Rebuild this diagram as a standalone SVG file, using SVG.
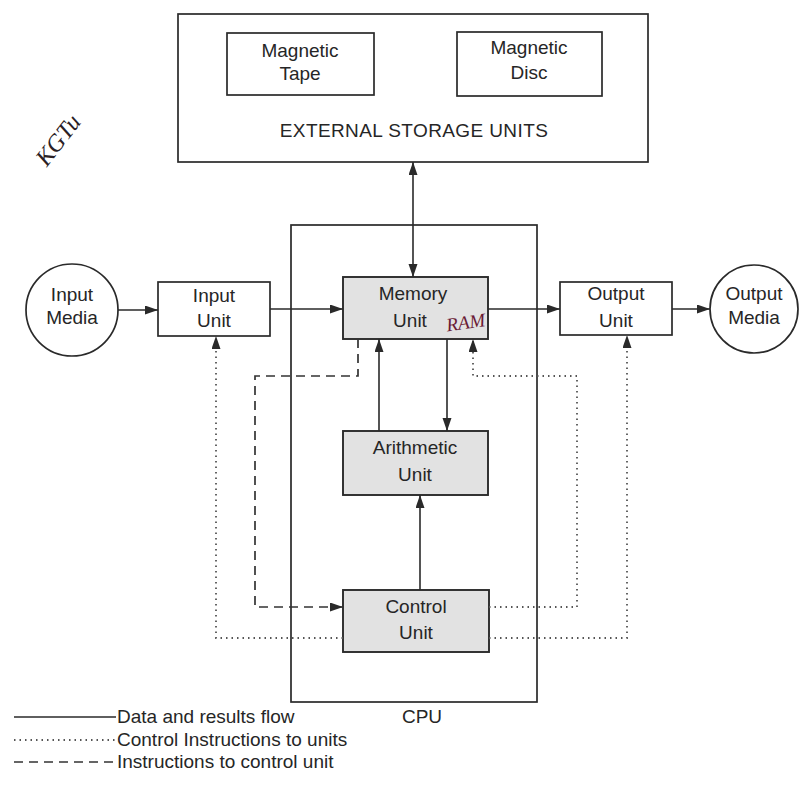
<svg xmlns="http://www.w3.org/2000/svg" width="800" height="788" viewBox="0 0 800 788">
<style>
  .box { fill: #ffffff; stroke: #2a2a2a; stroke-width: 1.7; }
  .shade { fill: #e2e2e2; stroke: #2a2a2a; stroke-width: 1.9; }
  .lbl { font-family: "Liberation Sans", Arial, sans-serif; font-size: 19px; fill: #262626; text-anchor: middle; }
  .leg { font-family: "Liberation Sans", Arial, sans-serif; font-size: 19px; fill: #262626; }
  .solid { fill: none; stroke: #2a2a2a; stroke-width: 1.6; }
  .dotted { fill: none; stroke: #555555; stroke-width: 1.8; stroke-dasharray: 1.5 4; }
  .dashed { fill: none; stroke: #333333; stroke-width: 1.7; stroke-dasharray: 9 6; }
  .hand { font-family: "Liberation Serif", serif; font-style: italic; }
</style>
<defs>
  <marker id="arr" markerUnits="userSpaceOnUse" markerWidth="14" markerHeight="10" refX="13" refY="4.5" orient="auto-start-reverse">
    <path d="M0,0 L13,4.5 L0,9 z" fill="#2a2a2a"/>
  </marker>
</defs>
<rect width="800" height="788" fill="#ffffff"/>

<g id="external-storage">
  <rect class="box" x="178" y="14" width="470" height="148"/>
  <text class="lbl" x="414" y="137" letter-spacing="0.4">EXTERNAL STORAGE UNITS</text>
</g>
<g id="magnetic-tape">
  <rect class="box" x="227" y="33" width="147" height="62"/>
  <text class="lbl" x="300" y="57">Magnetic</text>
  <text class="lbl" x="300" y="80">Tape</text>
</g>
<g id="magnetic-disc">
  <rect class="box" x="457" y="32" width="145" height="64"/>
  <text class="lbl" x="529" y="54">Magnetic</text>
  <text class="lbl" x="529" y="79">Disc</text>
</g>
<g id="cpu">
  <rect class="box" x="291" y="225" width="246" height="477" fill="none"/>
  <text class="lbl" x="422" y="723">CPU</text>
</g>
<g id="input-media">
  <circle class="box" cx="72" cy="310" r="46"/>
  <text class="lbl" x="72" y="301">Input</text>
  <text class="lbl" x="72" y="324">Media</text>
</g>
<g id="input-unit">
  <rect class="box" x="158" y="282" width="112" height="54"/>
  <text class="lbl" x="214" y="302">Input</text>
  <text class="lbl" x="214" y="327">Unit</text>
</g>
<g id="memory-unit">
  <rect class="shade" x="343" y="277" width="145" height="62"/>
  <text class="lbl" x="413" y="300">Memory</text>
  <text class="lbl" x="410" y="327">Unit</text>
  <text class="hand" x="446" y="329" font-size="19" fill="#6a1a35" transform="rotate(-8 464 322)">RAM</text>
</g>
<g id="output-unit">
  <rect class="box" x="560" y="282" width="112" height="53"/>
  <text class="lbl" x="616" y="300">Output</text>
  <text class="lbl" x="616" y="327">Unit</text>
</g>
<g id="output-media">
  <circle class="box" cx="754" cy="309" r="44"/>
  <text class="lbl" x="754" y="300">Output</text>
  <text class="lbl" x="754" y="324">Media</text>
</g>
<g id="arithmetic-unit">
  <rect class="shade" x="343" y="431" width="145" height="64"/>
  <text class="lbl" x="415" y="454">Arithmetic</text>
  <text class="lbl" x="415" y="481">Unit</text>
</g>
<g id="control-unit">
  <rect class="shade" x="343" y="590" width="146" height="62"/>
  <text class="lbl" x="416" y="613">Control</text>
  <text class="lbl" x="416" y="639">Unit</text>
</g>

<g id="connectors">
  <line class="solid" x1="413" y1="162" x2="413" y2="277" marker-start="url(#arr)" marker-end="url(#arr)"/>
  <line class="solid" x1="118" y1="310" x2="158" y2="310" marker-end="url(#arr)"/>
  <line class="solid" x1="270" y1="309" x2="343" y2="309" marker-end="url(#arr)"/>
  <line class="solid" x1="488" y1="309" x2="560" y2="309" marker-end="url(#arr)"/>
  <line class="solid" x1="672" y1="309" x2="710" y2="309" stroke="#3a5a5a" marker-end="url(#arr)"/>
  <line class="solid" x1="379" y1="431" x2="379" y2="339" marker-end="url(#arr)"/>
  <line class="solid" x1="447" y1="339" x2="447" y2="431" marker-end="url(#arr)"/>
  <line class="solid" x1="420" y1="590" x2="420" y2="495" marker-end="url(#arr)"/>
  <path class="dashed" d="M358,339 V376 H255 V607 H343" marker-end="url(#arr)"/>
  <path class="dotted" d="M343,638 H216 V336" marker-end="url(#arr)"/>
  <path class="dotted" d="M489,638 H627 V335" marker-end="url(#arr)"/>
  <path class="dotted" d="M489,607 H577 V376 H473 V339" marker-end="url(#arr)"/>
</g>

<g id="legend">
  <line class="solid" x1="14" y1="717" x2="116" y2="717"/>
  <text class="leg" x="117" y="723">Data and results flow</text>
  <line class="dotted" x1="14" y1="740" x2="116" y2="740"/>
  <text class="leg" x="117" y="746">Control Instructions to units</text>
  <line class="dashed" x1="14" y1="762" x2="116" y2="762"/>
  <text class="leg" x="117" y="768">Instructions to control unit</text>
</g>

<text class="hand" x="58" y="148" font-size="24" fill="#2a2024" text-anchor="middle" transform="rotate(-52 58 140)">KGTu</text>
</svg>
